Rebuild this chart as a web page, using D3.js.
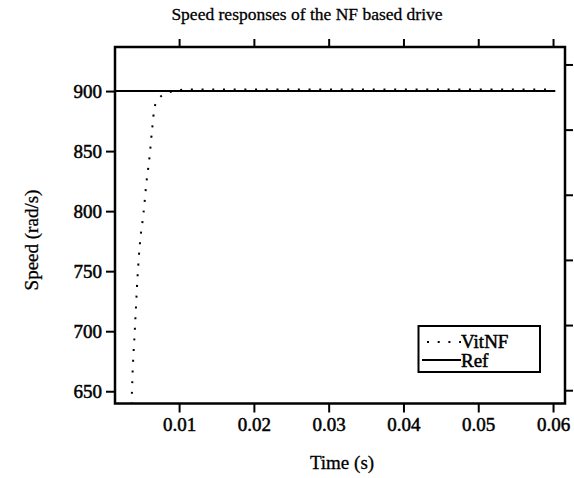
<!DOCTYPE html>
<html>
<head>
<meta charset="utf-8">
<script src="https://cdn.jsdelivr.net/npm/d3@7"></script>
<style>
  body { margin: 0; background: #fff; }
  svg { display: block; font-family: 'Liberation Serif', 'Times New Roman', serif; }
  .tick text {
    font-family: 'Liberation Serif', 'Times New Roman', serif;
    font-size: 19px;
    fill: #000;
    stroke: #000;
    stroke-width: 0.5;
  }
  .tick line { stroke: #000; stroke-width: 2; }
  .domain { display: none; }
  .label { font-size: 19px; fill: #000; stroke: #000; stroke-width: 0.5; }
</style>
</head>
<body>
<script>
/*
 * Speed responses of the NF based drive: reference step vs. NF response.
 */

const CANVAS_WIDTH = 574;
const CANVAS_HEIGHT = 478;
const PLOT_LEFT = 115;
const PLOT_RIGHT = 565;
const PLOT_TOP = 47;
const PLOT_BOT = 403.5;

// data
const VITNF_TIME = [0.0036, 0.00379, 0.00409, 0.00445, 0.00476, 0.00525, 0.00565,
                    0.0060, 0.0064, 0.00672, 0.00720, 0.00790, 0.00870, 0.0100,
                    0.0115, 0.0600];
const VITNF_SPEED = [630, 666.6, 702, 746, 773, 798.7, 825,
                     842.4, 868.4, 886.7, 893, 897, 899, 900.8,
                     901.4, 901.4];
const REF_TIME = [0, 0.0603];
const REF_SPEED = [900, 900];

const X_TICKS = [0.01, 0.02, 0.03, 0.04, 0.05, 0.06];
const Y_TICKS = [650, 700, 750, 800, 850, 900];
// right-hand axis carries unlabeled ticks of its own
const Y2_TICKS = [0, 1, 2, 3, 4, 5];

const svg = d3.select('body')
  .append('svg')
    .attr('width', CANVAS_WIDTH)
    .attr('height', CANVAS_HEIGHT);

const xScale = d3.scaleLinear()
    .domain([0.00143, 0.0616])
    .range([PLOT_LEFT, PLOT_RIGHT]);

const yScale = d3.scaleLinear()
    .domain([639.8, 936.7])
    .range([PLOT_BOT, PLOT_TOP]);

const y2Scale = d3.scaleLinear()
    .domain([-0.204, 5.268])
    .range([PLOT_BOT, PLOT_TOP]);

// clip the curves to the plot box
svg.append('clipPath')
    .attr('id', 'clip')
  .append('rect')
    .attr('x', PLOT_LEFT)
    .attr('y', PLOT_TOP)
    .attr('width', PLOT_RIGHT - PLOT_LEFT)
    .attr('height', PLOT_BOT - PLOT_TOP);

const line = d3.line()
    .x(d => xScale(d[0]))
    .y(d => yScale(d[1]));

// reference speed
svg.append('path')
    .datum(d3.zip(REF_TIME, REF_SPEED))
    .attr('clip-path', 'url(#clip)')
    .attr('d', line)
    .attr('fill', 'none')
    .attr('stroke', '#000')
    .attr('stroke-width', 2);

// NF based response, dotted
svg.append('path')
    .datum(d3.zip(VITNF_TIME, VITNF_SPEED))
    .attr('clip-path', 'url(#clip)')
    .attr('d', line.curve(d3.curveMonotoneX))
    .attr('fill', 'none')
    .attr('stroke', '#000')
    .attr('stroke-width', 2)
    .attr('stroke-dasharray', '2 8.7');

// axes
svg.append('g')
    .attr('transform', `translate(0, ${PLOT_BOT})`)
    .call(d3.axisBottom(xScale).tickValues(X_TICKS).tickSize(9).tickPadding(5)
          .tickFormat(d3.format('.2f')));

svg.append('g')
    .attr('transform', `translate(0, ${PLOT_TOP})`)
    .call(d3.axisTop(xScale).tickValues(X_TICKS).tickSize(8).tickFormat(''));

svg.append('g')
    .attr('transform', `translate(${PLOT_LEFT}, 0)`)
    .call(d3.axisLeft(yScale).tickValues(Y_TICKS).tickSize(9).tickPadding(4));

svg.append('g')
    .attr('transform', `translate(${PLOT_RIGHT}, 0)`)
    .call(d3.axisRight(y2Scale).tickValues(Y2_TICKS).tickSize(8).tickFormat(''));

// frame
svg.append('rect')
    .attr('x', PLOT_LEFT)
    .attr('y', PLOT_TOP)
    .attr('width', PLOT_RIGHT - PLOT_LEFT)
    .attr('height', PLOT_BOT - PLOT_TOP)
    .attr('fill', 'none')
    .attr('stroke', '#000')
    .attr('stroke-width', 2.5);

// title and axis labels
svg.append('text')
    .attr('x', 307)
    .attr('y', 20)
    .attr('text-anchor', 'middle')
    .attr('class', 'label')
    .style('font-size', '17.5px')
    .style('stroke-width', 0.3)
    .text('Speed responses of the NF based drive');

svg.append('text')
    .attr('x', 342)
    .attr('y', 469)
    .attr('text-anchor', 'middle')
    .attr('class', 'label')
    .style('stroke-width', 0.3)
    .text('Time (s)');

svg.append('text')
    .attr('transform', 'translate(38, 240) rotate(-90)')
    .attr('text-anchor', 'middle')
    .attr('class', 'label')
    .style('stroke-width', 0.3)
    .text('Speed (rad/s)');

// legend
const legend = svg.append('g');

legend.append('rect')
    .attr('x', 418.5)
    .attr('y', 326)
    .attr('width', 121.5)
    .attr('height', 46)
    .attr('fill', '#fff')
    .attr('stroke', '#000')
    .attr('stroke-width', 2);

legend.append('line')
    .attr('x1', 427).attr('x2', 461)
    .attr('y1', 342).attr('y2', 342)
    .attr('stroke', '#000')
    .attr('stroke-width', 2)
    .attr('stroke-dasharray', '2 8.7');

legend.append('text')
    .attr('x', 461)
    .attr('y', 348)
    .attr('class', 'label')
    .text('VitNF');

legend.append('line')
    .attr('x1', 422).attr('x2', 461)
    .attr('y1', 360).attr('y2', 360)
    .attr('stroke', '#000')
    .attr('stroke-width', 2);

legend.append('text')
    .attr('x', 461)
    .attr('y', 367)
    .attr('class', 'label')
    .text('Ref');
</script>
</body>
</html>
